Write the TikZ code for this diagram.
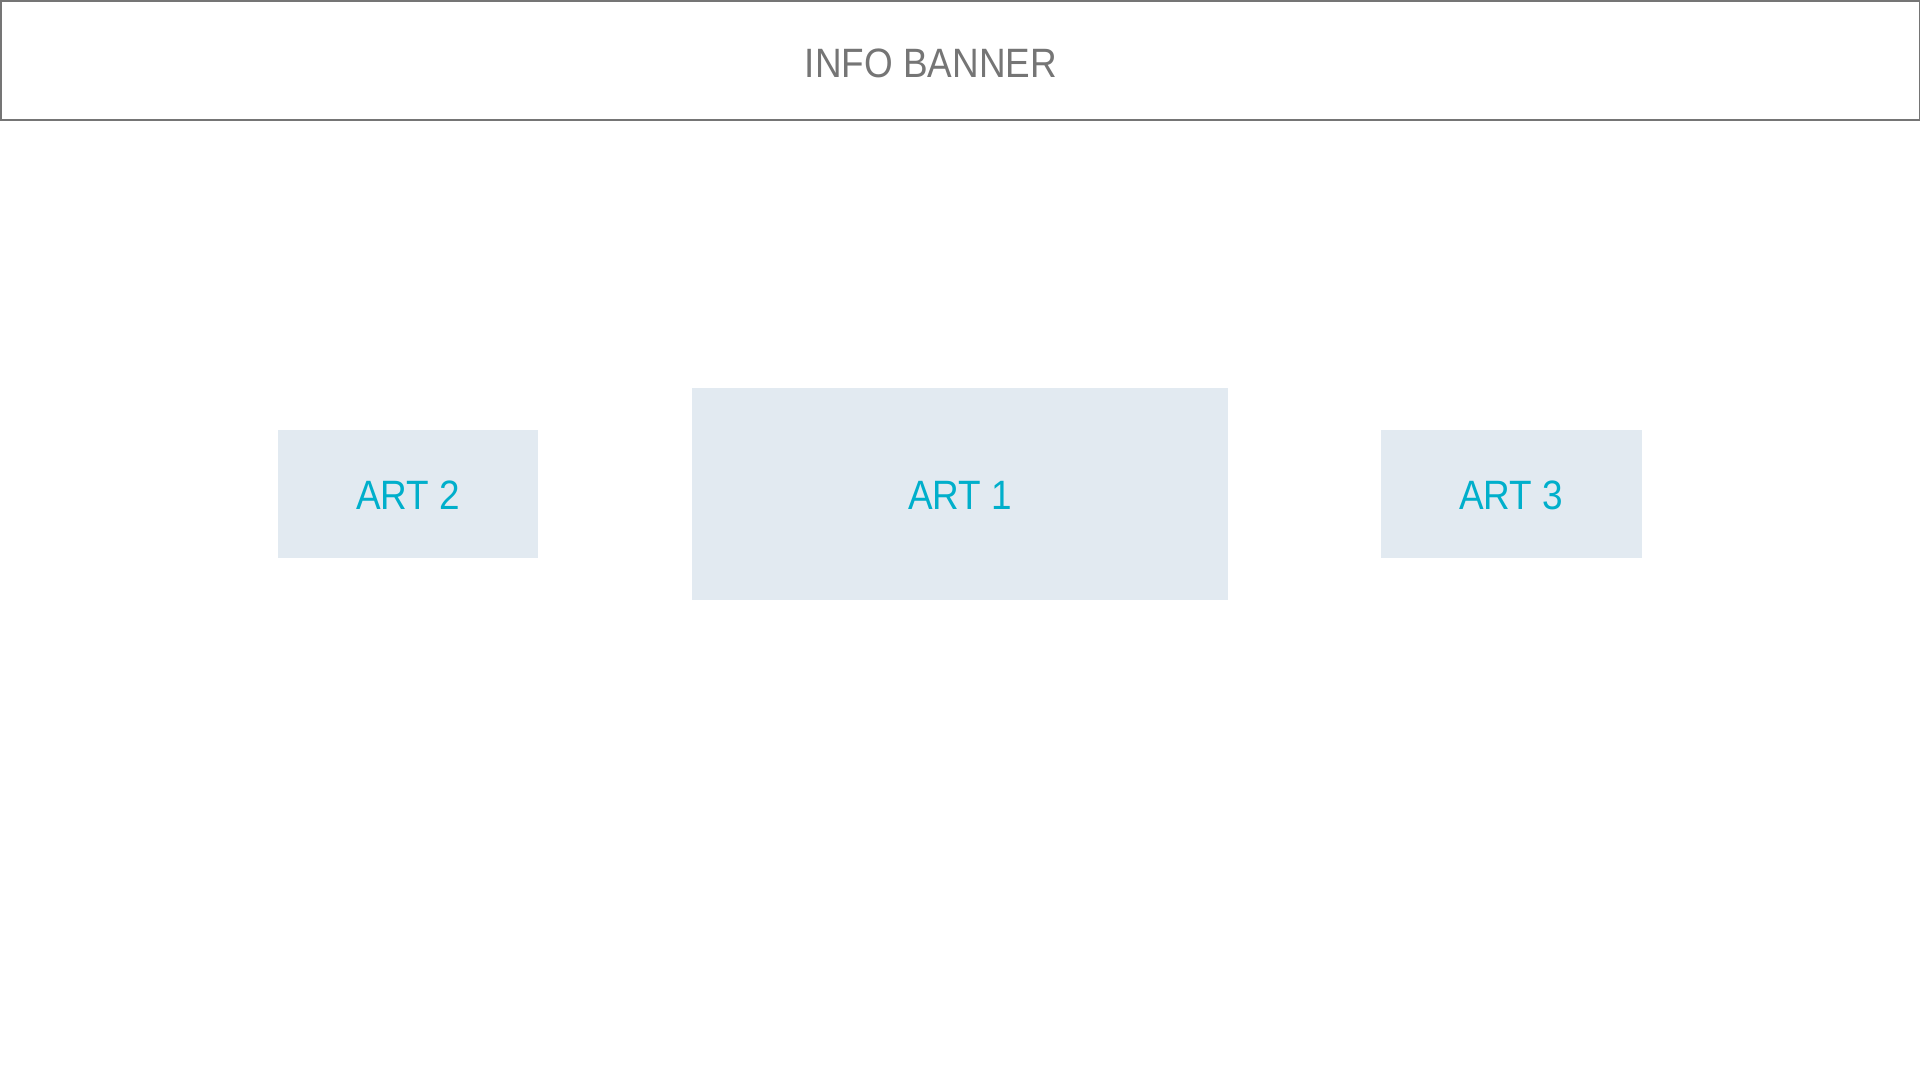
\documentclass[tikz,border=0pt]{standalone}
\usepackage{fontspec}
\setmainfont[FakeStretch=0.9]{Liberation Sans}
\definecolor{bannergray}{HTML}{757575}
\definecolor{artfill}{HTML}{E2EAF1}
\definecolor{arttext}{HTML}{00AFCB}
\begin{document}
\begin{tikzpicture}[x=1pt,y=-1pt,
  bannerbox/.style={draw=bannergray,line width=1.5pt},
  artbox/.style={fill=artfill,draw=none},
  arttitle/.style={text=arttext,font=\fontsize{41}{49}\selectfont,inner sep=0pt},
  bannertitle/.style={text=bannergray,font=\fontsize{41}{49}\selectfont,inner sep=0pt}]
\useasboundingbox (0,0) rectangle (1920,1080);
\fill[white] (0,0) rectangle (1920,1080);
% banner
\draw[bannerbox] (0.75,0.75) rectangle (1919.25,119.75);
\node[bannertitle] (banner) at (931,63) {INFO BANNER};
% art boxes
\fill[artbox] (278,430) rectangle (538,558);
\fill[artbox] (692,388) rectangle (1228,600);
\fill[artbox] (1381,430) rectangle (1642,558);
\node[arttitle] (art2) at (408,495) {ART 2};
\node[arttitle] (art1) at (960,495) {ART 1};
\node[arttitle] (art3) at (1511,495) {ART 3};
\end{tikzpicture}
\end{document}
